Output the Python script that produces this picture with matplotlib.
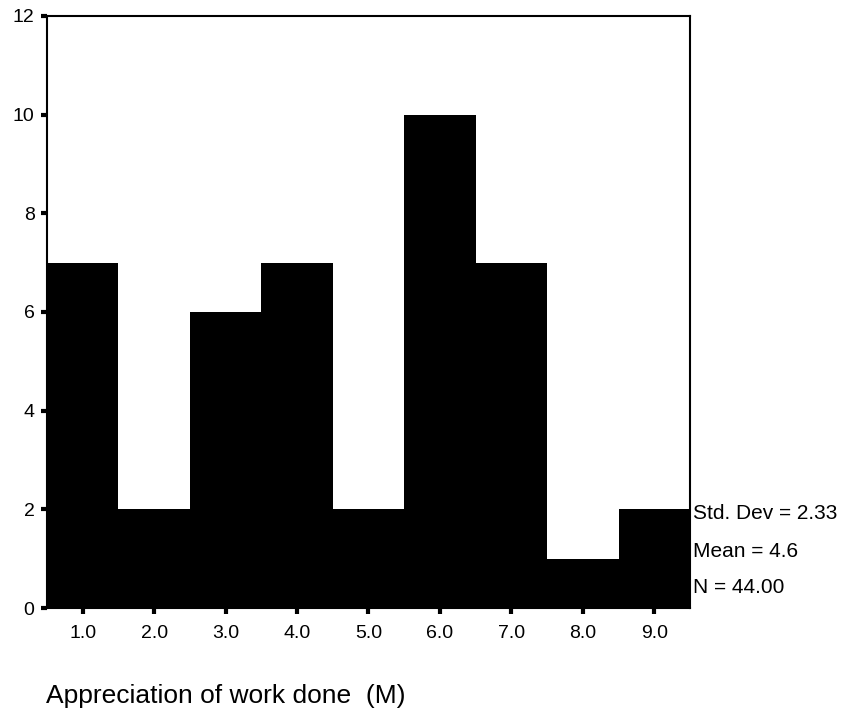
import matplotlib
matplotlib.use("Agg")
import matplotlib.pyplot as plt

plt.rcParams['font.family'] = ['Liberation Sans', 'DejaVu Sans']

bin_centers = [1.0, 2.0, 3.0, 4.0, 5.0, 6.0, 7.0, 8.0, 9.0]
counts = [7, 2, 6, 7, 2, 10, 7, 1, 2]
x_tick_labels = ["1.0", "2.0", "3.0", "4.0", "5.0", "6.0", "7.0", "8.0", "9.0"]
y_ticks = [0, 2, 4, 6, 8, 10, 12]
stats_lines = ["Std. Dev = 2.33", "Mean = 4.6", "N = 44.00"]
x_label = "Appreciation of work done  (M)"

fig = plt.figure(figsize=(8.44, 7.17), dpi=100)
ax = fig.add_axes([0.0557, 0.152, 0.7618, 0.8258])

ax.bar(bin_centers, counts, width=1.0, color="black", edgecolor="black", linewidth=0)
ax.set_xlim(0.5, 9.5)
ax.set_ylim(0, 12)
ax.set_xticks(bin_centers)
ax.set_xticklabels(x_tick_labels, fontsize=14)
ax.set_yticks(y_ticks)
ax.set_yticklabels([str(v) for v in y_ticks], fontsize=14)
ax.tick_params(axis="both", direction="out", length=4, width=3, color="black")
ax.tick_params(axis="x", pad=8)
ax.tick_params(axis="y", pad=5)
for s in ax.spines.values():
    s.set_linewidth(1.5)
    s.set_color("black")

baselines = [519, 557, 593]
for line, yp in zip(stats_lines, baselines):
    fig.text(693 / 844, 1 - yp / 717, line, fontsize=15, ha="left", va="baseline")

fig.text(46 / 844, 1 - 703 / 717, x_label, fontsize=19, ha="left", va="baseline")

fig.savefig("out.png", dpi=100)
